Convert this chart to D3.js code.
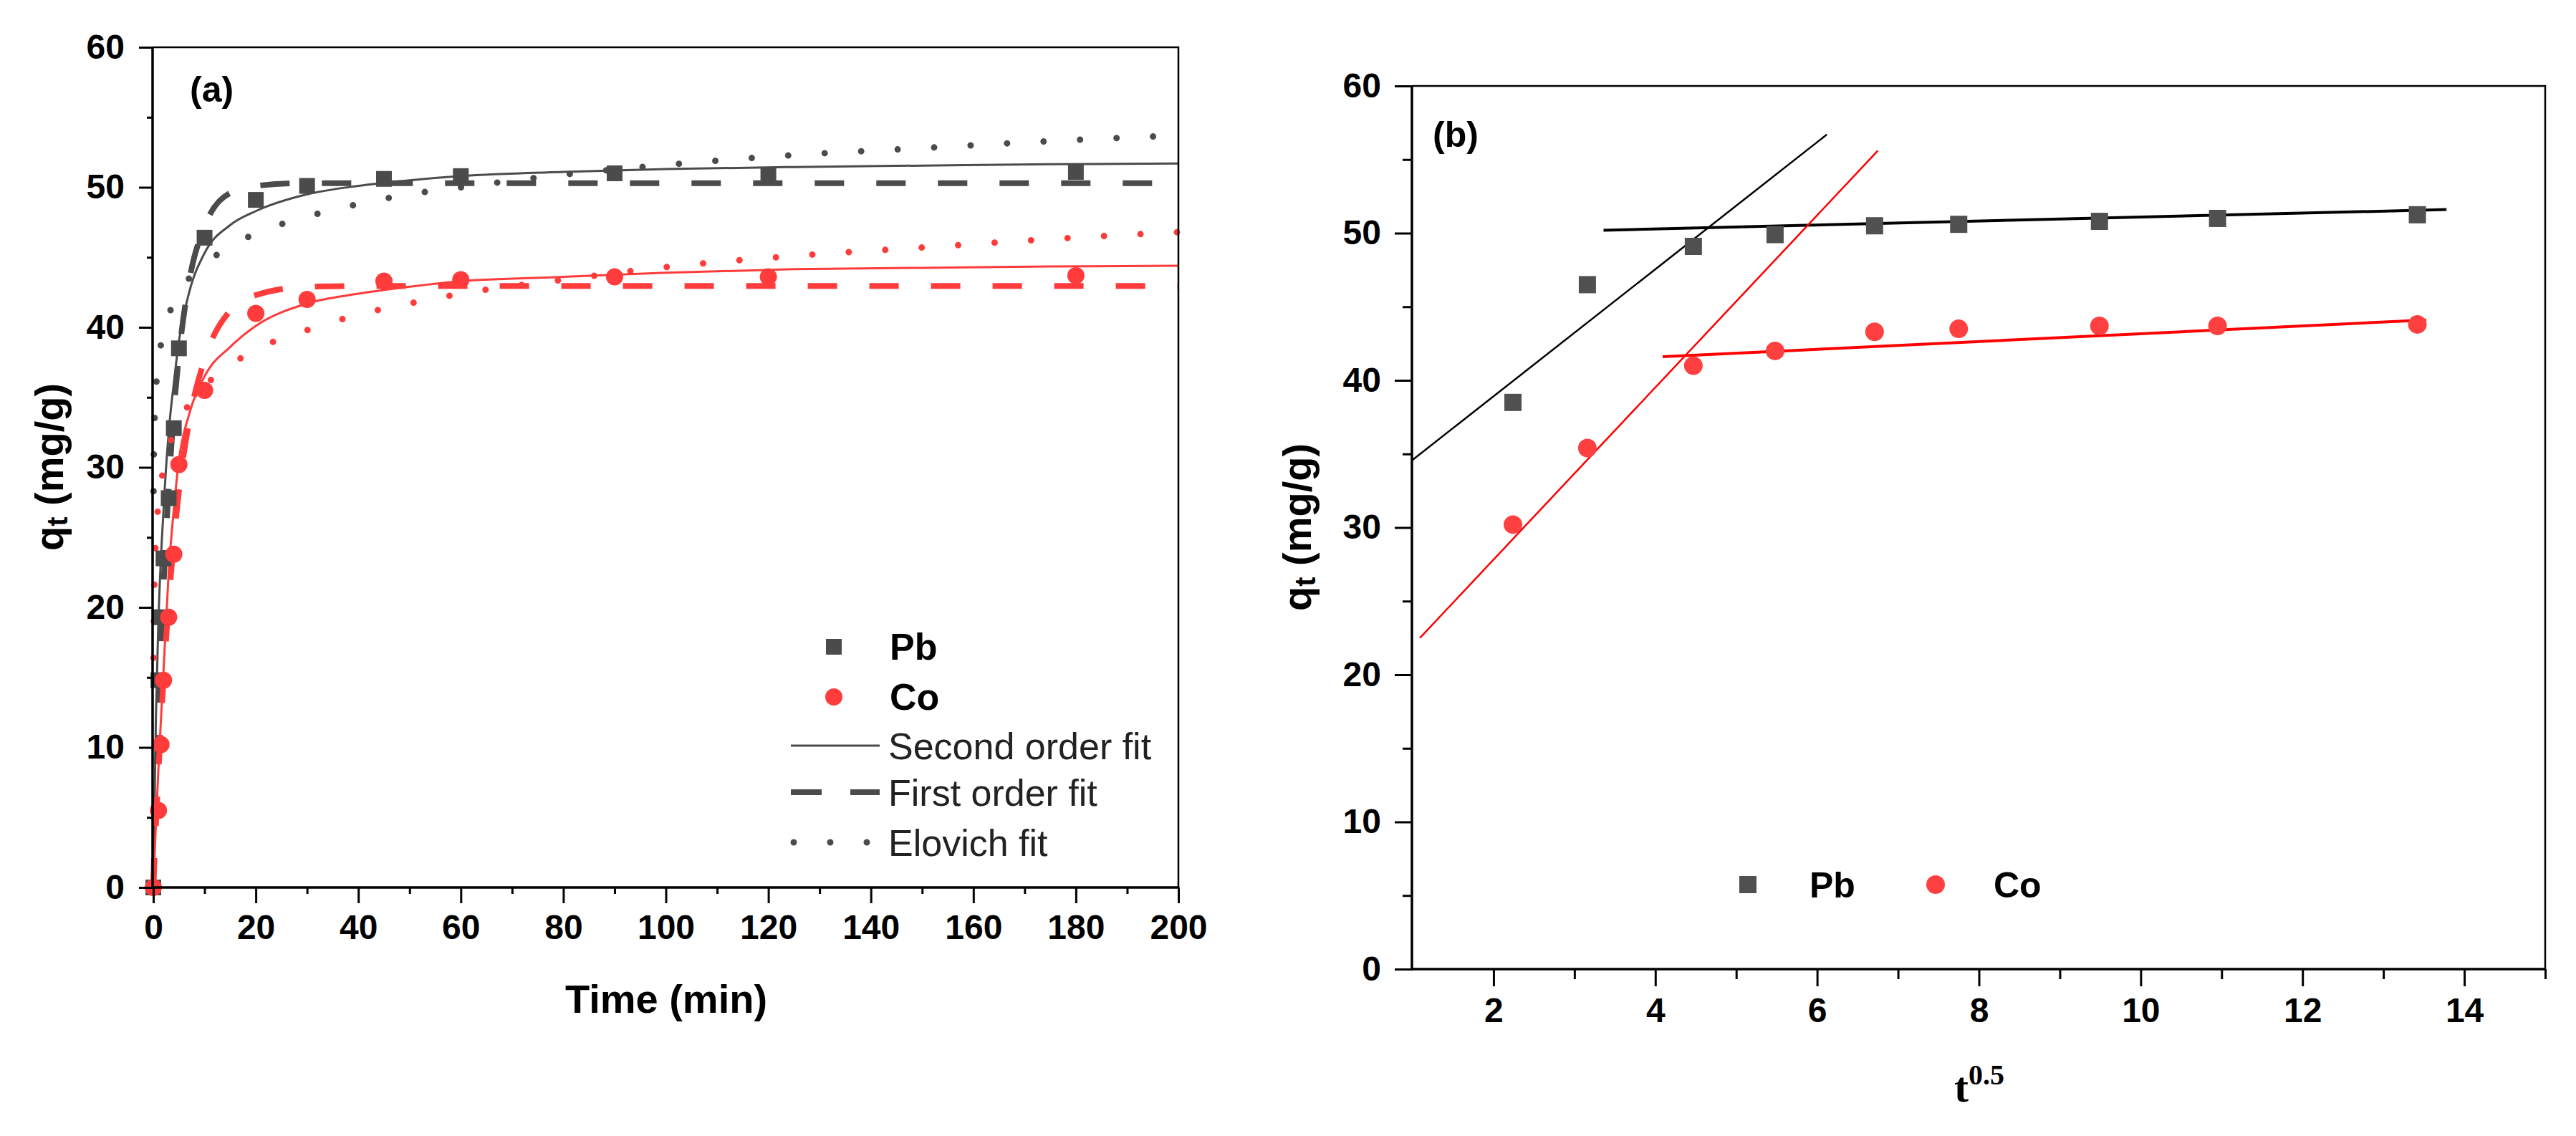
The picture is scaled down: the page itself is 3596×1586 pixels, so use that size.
<!DOCTYPE html>
<html>
<head>
<meta charset="utf-8">
<script src="https://cdn.jsdelivr.net/npm/d3@7"></script>
<style>
  body { margin: 0; background: #fff; }
  text { font-family: "Liberation Sans", Arial, sans-serif; }
</style>
</head>
<body>
<script>
// ---- panel (a): kinetic data, q_t (mg/g) vs time (min)
const timeA = [0, 1, 1.5, 2, 3, 4, 5, 10, 20, 30, 45, 60, 90, 120, 180];
const pbA = [0, 14.8, 19.3, 23.5, 27.8, 32.8, 38.5, 46.4, 49.1, 50.1, 50.6, 50.8, 51.0, 50.9, 51.1];
const coA = [0, 5.5, 10.2, 14.8, 19.3, 23.8, 30.2, 35.5, 41.0, 42.0, 43.3, 43.4, 43.6, 43.6, 43.7];

// model curves
const fitTime = [0, 0.5, 1, 2, 3, 4, 5, 7, 10, 15, 20, 30, 40, 50, 60, 80, 100, 125, 150, 175, 200];
const pbSecond = [0, 12, 19, 27, 32.5, 36, 39, 42.5, 45.3, 47.3, 48.3, 49.5, 50.1, 50.5, 50.8, 51.1, 51.3, 51.45, 51.55, 51.65, 51.7];
const pbFirst = [0, 6.5, 12.3, 21.6, 28.5, 34, 38, 43.3, 47.2, 49.6, 50.1, 50.3, 50.3, 50.3, 50.3, 50.3, 50.3, 50.3, 50.3, 50.3, 50.3];
const coSecond = [0, 4.5, 8.5, 15.5, 22.5, 27, 30.5, 33.8, 36.5, 38.6, 40.1, 41.7, 42.4, 42.9, 43.3, 43.6, 43.9, 44.15, 44.25, 44.35, 44.4];
const coFirst = [0, 4.4, 8.2, 14.9, 20.3, 24.7, 28.3, 33.3, 37.7, 41.2, 42.3, 42.9, 42.95, 42.95, 42.95, 42.95, 42.95, 42.95, 42.95, 42.95, 42.95];
const elovichTime = [0.05, 0.1, 0.25, 0.5, 1, 2, 3, 4, 5, 7, 10, 15, 20, 30, 40, 50, 60, 80, 100, 125, 150, 175, 200];
const pbElovich = [28.3, 30.5, 33.3, 35.4, 37.5, 39.6, 40.9, 41.7, 42.4, 43.5, 44.5, 45.8, 46.7, 47.9, 48.8, 49.5, 50.0, 50.9, 51.6, 52.3, 52.8, 53.3, 53.7];
const coElovich = [16.4, 19, 22.3, 24.9, 27.4, 29.9, 31.4, 32.5, 33.3, 34.5, 35.8, 37.3, 38.4, 39.8, 40.9, 41.7, 42.4, 43.4, 44.3, 45.1, 45.7, 46.3, 46.8];

const ticksTime = [0, 20, 40, 60, 80, 100, 120, 140, 160, 180, 200];
const ticksQ = [0, 10, 20, 30, 40, 50, 60];

// ---- panel (b): intraparticle diffusion, q_t vs t^0.5
const sqrtTime = [2.24, 3.16, 4.47, 5.48, 6.71, 7.75, 9.49, 10.95, 13.42];
const pbB = [38.5, 46.5, 49.1, 49.9, 50.5, 50.6, 50.8, 51.0, 51.25];
const coB = [30.2, 35.4, 41.0, 42.0, 43.3, 43.5, 43.7, 43.7, 43.8];
// straight-line fits, [start, end]
const pbLine1X = [1.0, 6.12], pbLine1Y = [34.6, 56.7];
const pbLine2X = [3.36, 13.78], pbLine2Y = [50.2, 51.6];
const coLine1X = [1.09, 6.75], coLine1Y = [22.5, 55.6];
const coLine2X = [4.09, 13.53], coLine2Y = [41.6, 44.1];
const ticksSqrt = [2, 4, 6, 8, 10, 12, 14];

const gray = "#4b4b4b";
const red = "#ff3b3b";

const width = 3596, height = 1586;
const svg = d3.select("body").append("svg")
    .attr("width", width)
    .attr("height", height)
    .attr("viewBox", [0, 0, width, height]);

const zip = (xs, ys) => xs.map((x, i) => [x, ys[i]]);

// frame + axes helper
function frame(g, x, y, xMajor, xMinor, yMinor, opt) {
  const [x0, x1] = x.range(), [y0, y1] = y.range();
  // minor ticks first
  g.append("g")
      .attr("transform", `translate(0,${y0})`)
      .call(d3.axisBottom(x).tickValues(xMinor).tickSize(opt.minor).tickFormat(""))
      .call(a => a.select(".domain").remove())
      .call(a => a.selectAll("line").attr("stroke-width", 3));
  g.append("g")
      .attr("transform", `translate(${x0},0)`)
      .call(d3.axisLeft(y).tickValues(yMinor).tickSize(opt.minor).tickFormat(""))
      .call(a => a.select(".domain").remove())
      .call(a => a.selectAll("line").attr("stroke-width", 3));
  g.append("g")
      .attr("transform", `translate(0,${y0})`)
      .call(d3.axisBottom(x).tickValues(xMajor).tickSize(opt.majorX).tickPadding(opt.padX).tickFormat(d3.format("d")))
      .call(a => a.select(".domain").remove())
      .call(a => a.selectAll("line").attr("stroke-width", 3))
      .call(a => a.selectAll("text").attr("font-size", 48).attr("font-weight", "bold")
          .attr("font-family", "Liberation Sans, Arial, sans-serif"));
  g.append("g")
      .attr("transform", `translate(${x0},0)`)
      .call(d3.axisLeft(y).tickValues(ticksQ).tickSize(opt.majorY).tickPadding(opt.padY))
      .call(a => a.select(".domain").remove())
      .call(a => a.selectAll("line").attr("stroke-width", 3))
      .call(a => a.selectAll("text").attr("font-size", 48).attr("font-weight", "bold")
          .attr("font-family", "Liberation Sans, Arial, sans-serif"));
  // box
  g.append("path")
      .attr("fill", "none").attr("stroke", "#000").attr("stroke-width", 2.5)
      .attr("d", `M${x0},${y1}H${x1}V${y0}`);
  g.append("path")
      .attr("fill", "none").attr("stroke", "#000").attr("stroke-width", 3.5)
      .attr("d", `M${x0 - 1},${y1}V${y0}H${x1}`);
}

function yTitle(g, cx, cy) {
  const t = g.append("text")
      .attr("transform", `translate(${cx},${cy}) rotate(-90)`)
      .attr("text-anchor", "middle")
      .attr("dominant-baseline", "central")
      .attr("font-size", 56).attr("font-weight", "bold");
  t.append("tspan").text("q");
  t.append("tspan").attr("font-size", 40).attr("dy", 12).text("t");
  t.append("tspan").attr("dy", -12).text(" (mg/g)");
}

// ================= panel (a) =================
const xa = d3.scaleLinear().domain([0, 200]).range([214, 1645]);
const ya = d3.scaleLinear().domain([0, 60]).range([1239, 66]);
const ga = svg.append("g");

const lineA = (xs, ys) => d3.line().curve(d3.curveMonotoneX)
    .x(d => xa(d[0])).y(d => ya(d[1]))(zip(xs, ys));

const styles = {
  second: { w: 3, dash: null, cap: "butt" },
  first: { w: 8, dash: "41,45", cap: "butt" },
  elovich: { w: 9, dash: "0,51", cap: "round" }
};
const curves = [
  [fitTime, pbSecond, gray, "second"],
  [fitTime, pbFirst, gray, "first"],
  [elovichTime, pbElovich, gray, "elovich"],
  [fitTime, coSecond, red, "second"],
  [fitTime, coFirst, red, "first"],
  [elovichTime, coElovich, red, "elovich"]
];
ga.append("g").selectAll("path")
  .data(curves)
  .join("path")
    .attr("fill", "none")
    .attr("stroke", d => d[2])
    .attr("stroke-width", d => styles[d[3]].w)
    .attr("stroke-dasharray", d => styles[d[3]].dash)
    .attr("stroke-linecap", d => styles[d[3]].cap)
    .attr("d", d => lineA(d[0], d[1]));

const sq = 22, rc = 12;
ga.append("g").attr("fill", gray)
  .selectAll("rect")
  .data(zip(timeA, pbA))
  .join("rect")
    .attr("x", d => xa(d[0]) - sq / 2)
    .attr("y", d => ya(d[1]) - sq / 2)
    .attr("width", sq).attr("height", sq);
ga.append("g").attr("fill", red)
  .selectAll("circle")
  .data(zip(timeA, coA))
  .join("circle")
    .attr("cx", d => xa(d[0]))
    .attr("cy", d => ya(d[1]))
    .attr("r", rc);

frame(ga, xa, ya, ticksTime, d3.range(10, 200, 20), d3.range(5, 60, 10),
  { majorX: 22, majorY: 20, minor: 9, padX: 16, padY: 20 });

ga.append("text").attr("x", 265).attr("y", 142)
    .attr("font-size", 50).attr("font-weight", "bold").text("(a)");
yTitle(ga, 68, 652);
ga.append("text").attr("x", 930).attr("y", 1414)
    .attr("text-anchor", "middle")
    .attr("font-size", 56).attr("font-weight", "bold").text("Time (min)");

// legend (a)
const lgA = ga.append("g");
lgA.append("rect").attr("x", 1164 - sq / 2).attr("y", 903 - sq / 2)
    .attr("width", sq).attr("height", sq).attr("fill", gray);
lgA.append("circle").attr("cx", 1164).attr("cy", 973).attr("r", rc).attr("fill", red);
lgA.append("text").attr("x", 1242).attr("y", 921).attr("font-size", 52)
    .attr("font-weight", "bold").text("Pb");
lgA.append("text").attr("x", 1242).attr("y", 991).attr("font-size", 52)
    .attr("font-weight", "bold").text("Co");
const lgRows = [["second", "Second order fit", 1041], ["first", "First order fit", 1106], ["elovich", "Elovich fit", 1176]];
lgRows.forEach(([k, label, yy]) => {
  lgA.append("line")
      .attr("x1", k === "elovich" ? 1108 : 1104).attr("x2", 1228)
      .attr("y1", yy).attr("y2", yy)
      .attr("stroke", gray)
      .attr("stroke-width", styles[k].w)
      .attr("stroke-linecap", styles[k].cap)
      .attr("stroke-dasharray", k === "first" ? "43,40" : styles[k].dash);
  lgA.append("text").attr("x", 1240).attr("y", yy + 19)
      .attr("font-size", 52).attr("fill", "#222").text(label);
});

// ================= panel (b) =================
const xb = d3.scaleLinear().domain([1, 15]).range([1972, 3553]);
const yb = d3.scaleLinear().domain([0, 60]).range([1353, 120]);
const gb = svg.append("g");

const fitLines = [
  [pbLine1X, pbLine1Y, "#000"],
  [pbLine2X, pbLine2Y, "#000"],
  [coLine1X, coLine1Y, "#ff0000"],
  [coLine2X, coLine2Y, "#ff0000"]
];
gb.append("g").selectAll("path")
  .data(fitLines)
  .join("path")
    .attr("fill", "none")
    .attr("stroke", d => d[2])
    .attr("stroke-width", 2.5)
    .attr("d", d => d3.line().x(p => xb(p[0])).y(p => yb(p[1]))(zip(d[0], d[1])));
// the flat parts are drawn a bit heavier
gb.selectAll("path").filter((d, i) => i % 2 === 1).attr("stroke-width", 4);

const sqB = 24, rB = 13;
gb.append("g").attr("fill", "#505050")
  .selectAll("rect")
  .data(zip(sqrtTime, pbB))
  .join("rect")
    .attr("x", d => xb(d[0]) - sqB / 2)
    .attr("y", d => yb(d[1]) - sqB / 2)
    .attr("width", sqB).attr("height", sqB);
gb.append("g").attr("fill", "#ff4040")
  .selectAll("circle")
  .data(zip(sqrtTime, coB))
  .join("circle")
    .attr("cx", d => xb(d[0]))
    .attr("cy", d => yb(d[1]))
    .attr("r", rB);

frame(gb, xb, yb, ticksSqrt, d3.range(3, 16, 2), d3.range(5, 60, 10),
  { majorX: 24, majorY: 25, minor: 14, padX: 16, padY: 19 });

gb.append("text").attr("x", 2000).attr("y", 205)
    .attr("font-size", 50).attr("font-weight", "bold").text("(b)");
yTitle(gb, 1810, 736);
const tx = gb.append("text").attr("x", 2763).attr("y", 1538)
    .attr("text-anchor", "middle")
    .attr("font-family", "Liberation Serif, Times New Roman, serif")
    .style("font-family", "'Liberation Serif', 'Times New Roman', serif")
    .attr("font-weight", "bold").attr("font-size", 60);
tx.append("tspan").text("t");
tx.append("tspan").attr("font-size", 40).attr("dy", -24).text("0.5");

// legend (b)
gb.append("rect").attr("x", 2440 - sqB / 2).attr("y", 1235 - sqB / 2)
    .attr("width", sqB).attr("height", sqB).attr("fill", "#505050");
gb.append("text").attr("x", 2526).attr("y", 1253)
    .attr("font-size", 50).attr("font-weight", "bold").text("Pb");
gb.append("circle").attr("cx", 2702).attr("cy", 1235).attr("r", rB).attr("fill", "#ff4040");
gb.append("text").attr("x", 2783).attr("y", 1253)
    .attr("font-size", 50).attr("font-weight", "bold").text("Co");
</script>
</body>
</html>
